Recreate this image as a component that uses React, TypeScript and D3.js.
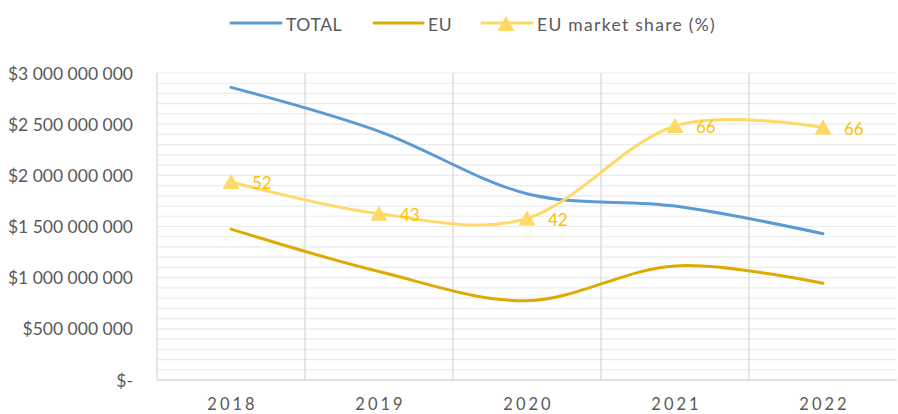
import React from "react";
import * as d3 from "d3";

const years = ["2018", "2019", "2020", "2021", "2022"];
const total = [2860000000, 2430000000, 1820000000, 1700000000, 1430000000];
const eu = [1475000000, 1060000000, 775000000, 1115000000, 945000000];
const share = [51.6, 43.3, 42.1, 66.2, 65.8];
const yTicks = [0, 500000000, 1000000000, 1500000000, 2000000000, 2500000000, 3000000000];
const yTickLabels = ["$-", "$500 000 000", "$1 000 000 000", "$1 500 000 000", "$2 000 000 000", "$2 500 000 000", "$3 000 000 000"];
const seriesNames = ["TOTAL", "EU", "EU market share (%)"];

const W = 898, H = 414;
const left = 157, right = 897, top = 73, bottom = 380;
const FONT = "Lato, 'Open Sans', sans-serif";
const C_TOTAL = "#5B9BD5";
const C_EU = "#DDAA00";
const C_SHARE = "#FFD966";
const C_LABEL = "#FFC000";

export default function App() {
  const x = d3.scaleBand().domain(years).range([left, right]).paddingInner(0).paddingOuter(0);
  const cx = (i: number) => (x(years[i]) as number) + x.bandwidth() / 2;
  const y = d3.scaleLinear().domain([0, 3000000000]).range([bottom, top]);
  const y2 = d3.scaleLinear().domain([0, 80]).range([bottom, top]);
  const line = d3.line<[number, number]>().x(d => d[0]).y(d => d[1]).curve(d3.curveCardinal.tension(0));

  const minor = d3.range(0, 3000000001, 100000000);
  const totalPts = total.map((v, i) => [cx(i), y(v)] as [number, number]);
  const euPts = eu.map((v, i) => [cx(i), y(v)] as [number, number]);
  const sharePts = share.map((v, i) => [cx(i), y2(v)] as [number, number]);

  const tri = (px: number, py: number) => `M${px},${py - 8} L${px + 8.5},${py + 7} L${px - 8.5},${py + 7} Z`;

  return (
    <svg width={W} height={H} style={{ position: "absolute", left: 0, top: 0, background: "#fff" }} fontFamily={FONT}>
      {minor.map(v => (
        <line key={v} x1={left} x2={right} y1={y(v)} y2={y(v)} stroke="#EBEBEB" strokeWidth={1.2} />
      ))}
      {years.map((yr, i) => i > 0 && (
        <line key={yr} x1={x(yr) as number} x2={x(yr) as number} y1={top} y2={bottom} stroke="#D9D9D9" strokeWidth={1.3} />
      ))}
      <line x1={left} x2={left} y1={top} y2={bottom} stroke="#D9D9D9" strokeWidth={1.3} />
      <line x1={left} x2={right} y1={bottom} y2={bottom} stroke="#D9D9D9" strokeWidth={1.3} />

      {yTicks.map((v, i) => (
        <text key={v} x={133} y={y(v)} textAnchor="end" dominantBaseline="central" fontSize={17.5} fill="#595959">{yTickLabels[i]}</text>
      ))}
      {years.map((yr, i) => (
        <text key={yr} x={cx(i) + 1.5} y={404} textAnchor="middle" dominantBaseline="central" fontSize={16.5} fill="#595959" letterSpacing={3}>{yr}</text>
      ))}

      <path d={line(totalPts) as string} fill="none" stroke={C_TOTAL} strokeWidth={3} strokeLinecap="round" />
      <path d={line(euPts) as string} fill="none" stroke={C_EU} strokeWidth={3} strokeLinecap="round" />
      <path d={line(sharePts) as string} fill="none" stroke={C_SHARE} strokeWidth={3} strokeLinecap="round" />
      {sharePts.map((p, i) => (
        <g key={i}>
          <path d={tri(p[0], p[1])} fill={C_SHARE} />
          <text x={p[0] + 21} y={p[1] + 1} dominantBaseline="central" fontSize={17} fill={C_LABEL}>{Math.round(share[i])}</text>
        </g>
      ))}

      {/* legend */}
      <line x1={231} x2={281} y1={23} y2={23} stroke={C_TOTAL} strokeWidth={3} strokeLinecap="round" />
      <text x={286} y={24} dominantBaseline="central" fontSize={17.5} fill="#595959" letterSpacing={0.6}>{seriesNames[0]}</text>
      <line x1={374} x2={423} y1={23} y2={23} stroke={C_EU} strokeWidth={3} strokeLinecap="round" />
      <text x={428} y={24} dominantBaseline="central" fontSize={17.5} fill="#595959" letterSpacing={0.6}>{seriesNames[1]}</text>
      <line x1={482} x2={532} y1={23} y2={23} stroke={C_SHARE} strokeWidth={3} strokeLinecap="round" />
      <path d={tri(506, 24)} fill={C_SHARE} />
      <text x={537} y={24} dominantBaseline="central" fontSize={17.5} fill="#595959" letterSpacing={1.3}>{seriesNames[2]}</text>
    </svg>
  );
}
